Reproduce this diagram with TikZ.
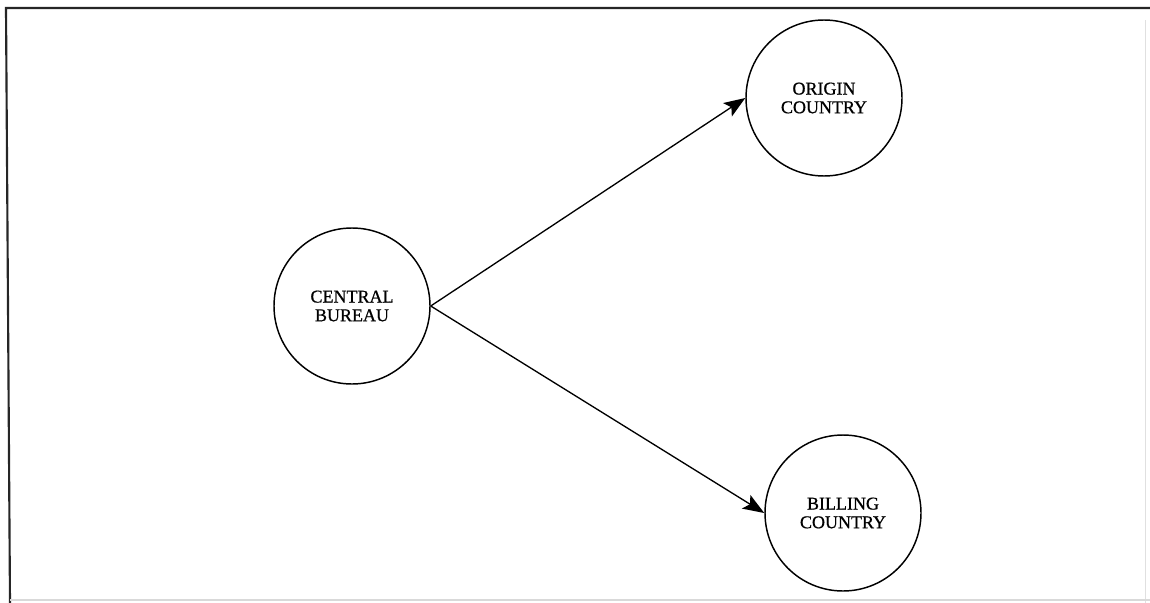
\documentclass[tikz,border=0pt]{standalone}
\usepackage{fontspec}
\setmainfont{Liberation Serif}
\newfontfamily\heavyserif{Liberation Serif}[FakeBold=0.8]
\usetikzlibrary{arrows.meta}
\begin{document}
\begin{tikzpicture}[x=0.75pt,y=-0.75pt,
  place/.style={circle,draw,line width=1.1pt,minimum size=117pt,inner sep=0pt,
    align=center,font=\heavyserif\fontsize{13.5}{14}\selectfont},
  flow/.style={line width=1pt,-{Stealth[length=16pt,width=12pt,inset=3.5pt]}}]
  % page extent
  \useasboundingbox (0,0) rectangle (1150,603);
  % frame
  \draw[line width=1.6pt,black!85] (1150,8) -- (6,8) -- (10,603);
  \draw[line width=0.6pt,black!12] (1145,20) -- (1145,603);
  \draw[line width=0.8pt,black!15] (10,600) -- (1150,600);
  % places
  \node[place] (central) at (352,306) {CENTRAL\\BUREAU};
  \node[place] (origin)  at (824,98)  {ORIGIN\\COUNTRY};
  \node[place] (billing) at (843,513) {BILLING\\COUNTRY};
  % flows
  \draw[flow] (central.east) -- (origin.west);
  \draw[flow] (central.east) -- (billing.west);
\end{tikzpicture}
\end{document}
